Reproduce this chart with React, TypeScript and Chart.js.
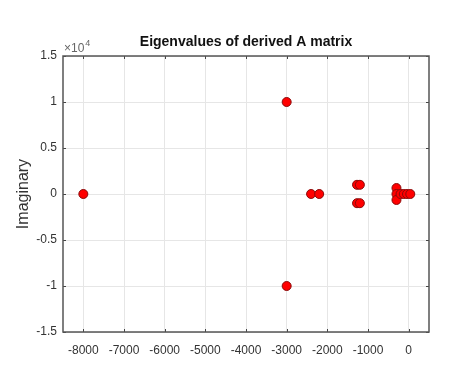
import React, { useEffect, useRef } from "react";
import { Chart, registerables } from "chart.js";

Chart.register(...registerables);

const realParts: number[] = [-8000, -3000, -3000, -2400, -2200, -1270, -1200, -1270, -1200, -300, -300, -300, -200, -120, -40, 40];
const imagParts: number[] = [0, 10000, -10000, 0, 0, 1000, 1000, -1000, -1000, 650, 0, -650, 0, 0, 0, 0];
const xTicks: number[] = [-8000, -7000, -6000, -5000, -4000, -3000, -2000, -1000, 0];
const yTicks: number[] = [-15000, -10000, -5000, 0, 5000, 10000, 15000];
const titleText = "Eigenvalues of derived A matrix";
const yTitle = "Imaginary";

const FONT = "'Liberation Sans', Arial, sans-serif";

const boxPlugin = {
  id: "matlabBox",
  afterDraw(chart: any) {
    const { ctx, chartArea } = chart;
    const { left, right, top, bottom } = chartArea;
    ctx.save();
    // inward ticks
    ctx.strokeStyle = "#444";
    ctx.lineWidth = 1;
    const xs = chart.scales.x;
    const ys = chart.scales.y;
    xTicks.forEach((v) => {
      const px = Math.round(xs.getPixelForValue(v)) + 0.5;
      ctx.beginPath();
      ctx.moveTo(px, bottom);
      ctx.lineTo(px, bottom - 3);
      ctx.moveTo(px, top);
      ctx.lineTo(px, top + 3);
      ctx.stroke();
    });
    yTicks.forEach((v) => {
      const py = Math.round(ys.getPixelForValue(v)) + 0.5;
      ctx.beginPath();
      ctx.moveTo(left, py);
      ctx.lineTo(left + 3, py);
      ctx.moveTo(right, py);
      ctx.lineTo(right - 3, py);
      ctx.stroke();
    });
    // box
    ctx.strokeStyle = "#555";
    ctx.lineWidth = 1.5;
    ctx.strokeRect(left, top, right - left, bottom - top);
    // title
    ctx.fillStyle = "#111";
    ctx.textAlign = "center";
    ctx.textBaseline = "middle";
    ctx.font = `bold 14px ${FONT}`;
    ctx.fillText(titleText, (left + right) / 2, 42);
    // exponent label
    ctx.fillStyle = "#666";
    ctx.textBaseline = "alphabetic";
    ctx.textAlign = "left";
    ctx.font = `12px ${FONT}`;
    ctx.fillText("\u00d710", left + 1, top - 4);
    const w = ctx.measureText("\u00d710").width;
    ctx.font = `9px ${FONT}`;
    ctx.fillText("4", left + 1 + w + 1, top - 10);
    ctx.restore();
  },
};

export default function App() {
  const ref = useRef<HTMLCanvasElement | null>(null);
  useEffect(() => {
    document.body.style.margin = "0";
    const canvas = ref.current;
    if (!canvas) return;
    const points = realParts.map((x, i) => ({ x, y: imagParts[i] }));
    const chart = new Chart(canvas, {
      type: "scatter",
      data: {
        datasets: [
          {
            data: points,
            backgroundColor: "#ff0000",
            borderColor: "#8a0a0a",
            borderWidth: 1,
            pointRadius: 4.5,
          },
        ],
      },
      options: {
        animation: false,
        responsive: false,
        maintainAspectRatio: false,
        layout: { padding: { left: 0, right: 35, top: 56, bottom: 0 } },
        plugins: {
          legend: { display: false },
          tooltip: { enabled: false },
          title: { display: false },
        },
        scales: {
          x: {
            type: "linear",
            min: -8500,
            max: 500,
            afterBuildTicks: (scale: any) => {
              scale.ticks = xTicks.map((v) => ({ value: v }));
            },
            afterFit: (scale: any) => {
              scale.height = 39;
            },
            grid: { color: "#e6e6e6", drawTicks: false },
            border: { display: false },
            ticks: {
              padding: 11,
              color: "#333",
              font: { family: FONT, size: 12 },
              maxRotation: 0,
              callback: (v: any) => String(v),
            },
          },
          y: {
            type: "linear",
            min: -15000,
            max: 15000,
            afterBuildTicks: (scale: any) => {
              scale.ticks = yTicks.map((v) => ({ value: v }));
            },
            afterFit: (scale: any) => {
              scale.width = 63;
            },
            grid: { color: "#e6e6e6", drawTicks: false },
            border: { display: false },
            title: {
              display: true,
              text: yTitle,
              color: "#333",
              font: { family: FONT, size: 16 },
              padding: { top: 14, bottom: 0 },
            },
            ticks: {
              padding: 6,
              color: "#333",
              font: { family: FONT, size: 12 },
              callback: (v: any) => String(Number(v) / 10000),
            },
          },
        },
      },
      plugins: [boxPlugin],
    } as any);
    return () => chart.destroy();
  }, []);
  return (
    <div style={{ width: 464, height: 371, background: "#fff" }}>
      <canvas ref={ref} width={464} height={371} style={{ display: "block" }} />
    </div>
  );
}
